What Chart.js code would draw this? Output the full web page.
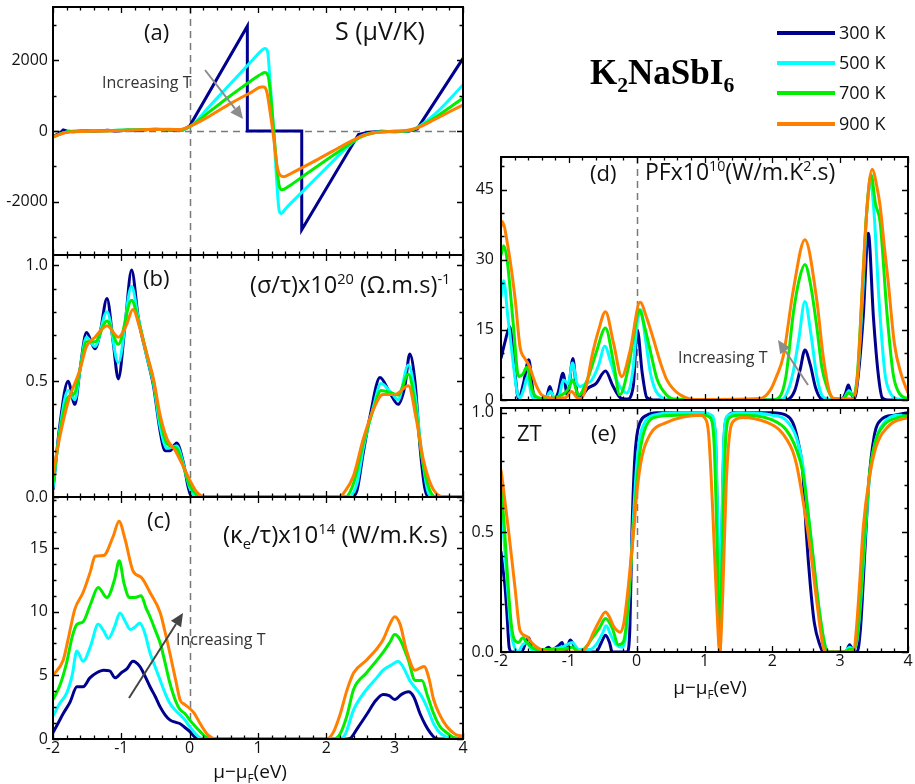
<!DOCTYPE html>
<html><head><meta charset="utf-8">
<script src="https://cdn.jsdelivr.net/npm/chart.js@4.4.1/dist/chart.umd.min.js"></script>
<style>
html,body{margin:0;padding:0;background:#fff;}
#wrap{position:relative;width:915px;height:784px;overflow:hidden;font-family:"Open Sans",sans-serif;}
canvas{position:absolute;left:0;top:0;}
.t{position:absolute;white-space:nowrap;line-height:1;color:#111;z-index:5;}
.t sup,.t sub{font-size:62%;line-height:0;}
svg{position:absolute;left:0;top:0;z-index:6;}
</style></head>
<body><div id="wrap"></div>
<script>
// ---------------- DATA ----------------
const temps = ['300 K','500 K','700 K','900 K'];
const colors = ['#00008F','#00FFFF','#00EE00','#FF8000'];
const xTicks = [-2,-1,0,1,2,3,4];
const aTicks = [-2000,0,2000];
const bTicks = [0,0.5,1.0];
const cTicks = [0,5,10,15];
const dTicks = [0,15,30,45];
const eTicks = [0,0.5,1.0];

// (a) Seebeck S (uV/K)
const seebeck300 = [[-2,-150],[-1.9,-60],[-1.85,30],[-1.8,0],[-1.7,-20],[-1.6,0],[-1.5,10],[-1.4,-10],[-1.3,10],[-1.2,20],[-1.1,0],[-1.0,10],[-0.9,30],[-0.8,10],[-0.7,20],[-0.6,40],[-0.5,50],[-0.4,40],[-0.3,30],[-0.2,20],[-0.1,30],[0,140],[0.844,2960],[0.844,0],[1.64,0],[1.64,-2790],[2.47,-100],[2.6,-40],[2.8,-10],[3.0,-20],[3.2,-10],[3.33,60],[4.0,2050]];
const seebeck500 = [[-2,-170],[-1.8,-30],[-1.5,0],[-1.2,10],[-0.9,30],[-0.6,40],[-0.3,40],[-0.15,30],[0,110],[0.3,720],[0.6,1340],[0.9,1960],[1.05,2270],[1.1,2330],[1.14,2250],[1.18,1300],[1.23,0],[1.27,-1300],[1.31,-2250],[1.34,-2330],[1.4,-2200],[1.7,-1620],[2.0,-1040],[2.3,-470],[2.5,-150],[2.7,-40],[3.0,-10],[3.2,10],[3.33,100],[3.6,500],[4.0,1300]];
const seebeck700 = [[-2,-170],[-1.8,-30],[-1.5,0],[-1.2,10],[-0.9,30],[-0.6,40],[-0.3,45],[-0.15,30],[0,120],[0.3,560],[0.6,1000],[0.9,1420],[1.05,1610],[1.1,1650],[1.15,1540],[1.19,900],[1.23,0],[1.27,-900],[1.31,-1550],[1.35,-1660],[1.45,-1560],[1.7,-1220],[2.0,-820],[2.3,-420],[2.5,-170],[2.7,-50],[3.0,-10],[3.2,10],[3.33,90],[3.6,390],[4.0,930]];
const seebeck900 = [[-2,-160],[-1.8,-40],[-1.5,-10],[-1.2,0],[-0.9,20],[-0.6,40],[-0.3,50],[-0.15,40],[0,130],[0.3,430],[0.6,780],[0.9,1090],[1.05,1240],[1.09,1240],[1.13,1100],[1.18,500],[1.23,-200],[1.28,-1000],[1.33,-1260],[1.38,-1290],[1.5,-1180],[1.8,-880],[2.1,-560],[2.4,-250],[2.55,-120],[2.8,-30],[3.1,0],[3.33,90],[3.6,340],[4.0,740]];

// (b) sigma/tau x1e20
const sigma300 = [[-2,0.03],[-1.9,0.31],[-1.78,0.5],[-1.68,0.4],[-1.605,0.55],[-1.51,0.71],[-1.385,0.64],[-1.31,0.71],[-1.21,0.857],[-1.12,0.67],[-1.044,0.51],[-0.946,0.74],[-0.85,0.98],[-0.75,0.77],[-0.63,0.61],[-0.53,0.48],[-0.43,0.28],[-0.36,0.2],[-0.29,0.2],[-0.19,0.233],[-0.09,0.146],[-0.02,0.04],[0.03,0],[2.38,0],[2.45,0.03],[2.54,0.19],[2.64,0.35],[2.785,0.516],[2.93,0.45],[3.05,0.4],[3.15,0.48],[3.22,0.617],[3.3,0.49],[3.37,0.22],[3.44,0.04],[3.5,0],[4,0]];
const sigma500 = [[-2,0.04],[-1.9,0.29],[-1.78,0.46],[-1.68,0.42],[-1.605,0.55],[-1.51,0.69],[-1.385,0.65],[-1.21,0.8],[-1.044,0.58],[-0.85,0.91],[-0.75,0.77],[-0.63,0.61],[-0.53,0.49],[-0.43,0.3],[-0.33,0.21],[-0.19,0.22],[-0.09,0.14],[0,0.04],[0.1,0],[2.33,0],[2.45,0.06],[2.54,0.21],[2.69,0.39],[2.8,0.49],[2.95,0.45],[3.05,0.42],[3.2,0.57],[3.3,0.44],[3.4,0.18],[3.48,0.03],[3.55,0],[4,0]];
const sigma700 = [[-2,0.06],[-1.9,0.28],[-1.78,0.43],[-1.68,0.45],[-1.605,0.55],[-1.51,0.67],[-1.385,0.67],[-1.21,0.76],[-1.044,0.66],[-0.85,0.85],[-0.75,0.76],[-0.63,0.62],[-0.53,0.5],[-0.43,0.33],[-0.33,0.23],[-0.19,0.21],[-0.09,0.13],[0,0.05],[0.1,0.01],[0.2,0],[2.28,0],[2.4,0.06],[2.54,0.23],[2.69,0.38],[2.8,0.46],[2.95,0.45],[3.05,0.44],[3.2,0.53],[3.3,0.4],[3.4,0.17],[3.5,0.04],[3.6,0],[4,0]];
const sigma900 = [[-2,0.1],[-1.9,0.26],[-1.78,0.41],[-1.605,0.55],[-1.51,0.65],[-1.385,0.69],[-1.21,0.74],[-1.044,0.69],[-0.93,0.74],[-0.83,0.81],[-0.73,0.73],[-0.63,0.62],[-0.53,0.51],[-0.43,0.35],[-0.33,0.25],[-0.21,0.2],[-0.09,0.13],[0,0.074],[0.1,0.023],[0.24,0],[2.2,0],[2.25,0.015],[2.395,0.09],[2.54,0.25],[2.69,0.38],[2.83,0.443],[3.005,0.443],[3.2,0.48],[3.32,0.33],[3.42,0.16],[3.57,0.03],[3.76,0],[4,0]];

// (c) kappa_e/tau x1e14
const kappa300 = [[-2,0.5],[-1.92,1.3],[-1.85,2.0],[-1.75,2.9],[-1.65,4.1],[-1.56,4.1],[-1.46,4.8],[-1.36,5.2],[-1.26,5.4],[-1.17,5.35],[-1.09,4.8],[-1.0,5.2],[-0.92,5.5],[-0.83,6.1],[-0.73,5.7],[-0.65,4.9],[-0.58,4.1],[-0.5,3.3],[-0.43,2.5],[-0.36,1.9],[-0.29,1.5],[-0.2,1.3],[-0.14,1.2],[-0.07,0.9],[0,0.6],[0.05,0.3],[0.1,0.05],[0.2,0],[2.3,0],[2.35,0.05],[2.45,0.8],[2.6,2.0],[2.72,3.0],[2.83,3.5],[2.92,3.4],[3.0,3.1],[3.1,3.5],[3.2,3.7],[3.28,3.3],[3.37,2.0],[3.45,1.1],[3.52,0.5],[3.6,0.05],[3.7,0],[4,0]];
const kappa500 = [[-2,1.8],[-1.9,2.8],[-1.8,3.6],[-1.72,5.0],[-1.65,6.9],[-1.56,6.1],[-1.45,7.3],[-1.34,9.0],[-1.26,8.5],[-1.19,7.9],[-1.1,8.8],[-1.02,9.9],[-0.94,9.2],[-0.87,8.6],[-0.8,8.8],[-0.73,9.1],[-0.65,8.2],[-0.58,6.75],[-0.5,5.6],[-0.43,4.6],[-0.36,3.6],[-0.29,2.8],[-0.2,2.2],[-0.14,1.9],[-0.07,1.5],[0,0.97],[0.08,0.45],[0.15,0.1],[0.25,0],[2.2,0],[2.28,0.4],[2.4,2.3],[2.59,3.9],[2.72,4.7],[2.83,5.4],[2.95,5.8],[3.05,6.1],[3.13,5.6],[3.22,4.6],[3.32,3.9],[3.4,3.3],[3.48,2.4],[3.57,1.2],[3.66,0.5],[3.76,0.15],[3.9,0],[4,0]];
const kappa700 = [[-2,3.1],[-1.9,4.2],[-1.8,6.0],[-1.72,8.0],[-1.65,9.0],[-1.56,9.2],[-1.45,10.6],[-1.34,11.9],[-1.21,11.1],[-1.1,12.5],[-1.03,14.0],[-0.96,12.2],[-0.88,11.1],[-0.8,11.1],[-0.71,11.25],[-0.64,10.3],[-0.58,9.6],[-0.5,8.5],[-0.43,7.5],[-0.36,6.0],[-0.29,4.4],[-0.2,2.9],[-0.14,2.3],[-0.07,2.0],[0,1.5],[0.08,1.0],[0.15,0.6],[0.24,0.15],[0.35,0],[2.1,0],[2.2,0.4],[2.3,1.8],[2.4,3.9],[2.59,5.2],[2.83,6.8],[2.93,7.6],[3.0,8.2],[3.08,7.8],[3.2,6.2],[3.3,4.6],[3.4,4.6],[3.48,3.4],[3.57,2.0],[3.66,1.0],[3.76,0.5],[3.85,0.15],[4,0]];
const kappa900 = [[-2,5.0],[-1.85,6.2],[-1.78,7.8],[-1.68,10.2],[-1.56,11.5],[-1.45,13.2],[-1.385,14.35],[-1.26,14.4],[-1.12,15.9],[-1.034,17.1],[-0.946,15.7],[-0.83,13.2],[-0.7,12.65],[-0.58,11.5],[-0.43,9.9],[-0.36,8.4],[-0.29,6.75],[-0.2,4.5],[-0.14,3.07],[-0.07,2.7],[0,2.4],[0.07,2.0],[0.15,1.24],[0.27,0.3],[0.4,0],[2.0,0],[2.1,0.5],[2.2,1.9],[2.3,3.8],[2.4,5.2],[2.59,6.2],[2.83,7.8],[2.92,8.9],[3.0,9.6],[3.08,9.0],[3.17,7.0],[3.3,5.4],[3.43,5.7],[3.5,4.8],[3.57,3.1],[3.66,1.9],[3.76,1.0],[3.88,0.4],[4,0.2]];

// (d) PF x1e10
const pf300 = [[-2,8.9],[-1.94,12.5],[-1.87,15.7],[-1.8,6.5],[-1.74,0.2],[-1.67,3.5],[-1.59,8.6],[-1.53,2],[-1.49,0.2],[-1.34,0.2],[-1.28,2.9],[-1.22,0.2],[-1.16,1.5],[-1.087,5.7],[-1.02,1.0],[-0.94,8.9],[-0.89,2.5],[-0.857,0.3],[-0.8,1.0],[-0.72,2.5],[-0.6,3.5],[-0.46,6.2],[-0.35,3.0],[-0.24,0.5],[-0.14,0.2],[-0.05,3],[0.01,15.0],[0.08,6],[0.15,0.5],[0.25,0],[2.2,0],[2.33,2.0],[2.41,6.5],[2.48,10.7],[2.56,7.5],[2.64,2.5],[2.72,0.3],[2.85,0],[3.03,0.2],[3.08,1.5],[3.12,3.2],[3.16,1.5],[3.21,0.3],[3.27,5.7],[3.34,17.8],[3.415,35.7],[3.49,17.8],[3.56,5.7],[3.62,0.5],[3.7,0],[4,0]];
const pf500 = [[-2,22],[-1.96,25.5],[-1.9,17.9],[-1.82,7.9],[-1.76,1.5],[-1.72,0.5],[-1.66,2.5],[-1.61,5],[-1.55,1.0],[-1.5,0.2],[-1.35,0.2],[-1.27,1.8],[-1.2,0.2],[-1.14,1.0],[-1.08,4.3],[-1.01,3.5],[-0.945,7.9],[-0.88,3.5],[-0.83,2.9],[-0.75,3.5],[-0.66,4.3],[-0.56,7.5],[-0.47,11.5],[-0.38,8.0],[-0.3,4.3],[-0.2,2.0],[-0.14,1.5],[-0.05,7],[0.0,15.7],[0.06,19.3],[0.13,13],[0.2,6],[0.28,2.0],[0.35,0.8],[0.45,0],[2.1,0],[2.2,1.0],[2.3,5.5],[2.39,13],[2.48,21.1],[2.57,14],[2.65,5.5],[2.73,1.0],[2.8,0.3],[2.9,0],[3.05,0.3],[3.13,2.0],[3.2,0.8],[3.26,5.7],[3.33,22],[3.4,42],[3.45,46.4],[3.5,40],[3.57,22],[3.66,5.7],[3.75,1.2],[3.85,0.2],[4,0]];
const pf700 = [[-2,31],[-1.96,33],[-1.91,30],[-1.82,16.4],[-1.74,5.0],[-1.68,5.5],[-1.62,7],[-1.54,2.1],[-1.45,0.5],[-1.3,0.3],[-1.1,1.1],[-1.0,2.5],[-0.945,4.3],[-0.857,1.0],[-0.71,5],[-0.6,10],[-0.46,15.4],[-0.34,7.9],[-0.25,1.1],[-0.12,7.1],[-0.04,14],[0.037,19.3],[0.12,15.5],[0.22,9.3],[0.3,4.5],[0.445,1.0],[0.55,0.2],[2.0,0],[2.1,0.5],[2.2,5],[2.31,18.6],[2.4,26],[2.48,29.0],[2.56,25],[2.655,15.7],[2.73,7],[2.8,3.0],[2.9,0.3],[3.05,0.2],[3.12,1.5],[3.2,1.0],[3.255,5.7],[3.32,22],[3.39,40],[3.455,48.2],[3.52,42],[3.59,37.9],[3.69,18.6],[3.78,5.7],[3.85,2.0],[3.95,0.5],[4.0,0.4]];
const pf900 = [[-2,37],[-1.985,38.2],[-1.89,32.1],[-1.79,21.4],[-1.72,11.4],[-1.65,8.9],[-1.59,7.5],[-1.495,3.6],[-1.4,1.1],[-1.2,0.4],[-1.05,0.5],[-0.96,1.8],[-0.88,0.5],[-0.83,0.3],[-0.75,2.5],[-0.66,9.3],[-0.56,15],[-0.46,18.9],[-0.34,12.1],[-0.22,5.0],[-0.095,10.7],[0.05,20.9],[0.15,17.5],[0.25,12.9],[0.35,8],[0.445,4.3],[0.64,1.1],[0.94,0.1],[1.82,0.3],[1.97,2.1],[2.06,5],[2.16,9.3],[2.31,23.6],[2.48,34.3],[2.655,21.4],[2.75,9.3],[2.85,1.4],[2.95,0.2],[3.195,0.3],[3.26,5.7],[3.33,25],[3.39,40],[3.47,49.4],[3.55,45],[3.59,41.4],[3.65,33],[3.71,25],[3.8,12],[3.9,5.5],[4.0,1.5]];

// (e) ZT
const zt300 = [[-2,0.42],[-1.985,0.38],[-1.94,0.27],[-1.91,0.15],[-1.88,0.02],[-1.84,0],[-1.7,0],[-1.62,0.05],[-1.59,0.06],[-1.55,0.02],[-1.4,0],[-1.3,0.02],[-1.25,0.01],[-1.14,0.03],[-1.1,0.04],[-1.05,0],[-0.98,0.05],[-0.93,0.03],[-0.88,0],[-0.8,0],[-0.6,0],[-0.52,0.04],[-0.46,0.07],[-0.4,0.04],[-0.36,0],[-0.14,0],[-0.1,0.1],[-0.07,0.5],[-0.03,0.8],[0,0.9],[0.05,0.96],[0.15,0.99],[0.3,1.0],[0.9,1.0],[1.05,0.995],[1.12,0.97],[1.16,0.9],[1.2,0.4],[1.225,0],[1.25,0.4],[1.29,0.9],[1.33,0.98],[1.45,1.0],[2.0,1.0],[2.2,0.99],[2.3,0.96],[2.38,0.88],[2.45,0.75],[2.5,0.5],[2.56,0.28],[2.62,0.12],[2.7,0.03],[2.75,0],[3.08,0],[3.14,0.03],[3.2,0],[3.25,0],[3.3,0.1],[3.36,0.4],[3.42,0.7],[3.5,0.9],[3.6,0.97],[3.8,0.99],[4.0,1.0]];
const zt500 = [[-2,0.62],[-1.95,0.45],[-1.9,0.25],[-1.85,0.08],[-1.8,0.02],[-1.75,0],[-1.68,0.03],[-1.62,0.04],[-1.55,0.01],[-1.45,0],[-1.3,0.01],[-1.1,0.02],[-0.95,0.04],[-0.85,0.01],[-0.7,0.01],[-0.6,0.03],[-0.5,0.08],[-0.45,0.11],[-0.38,0.07],[-0.3,0.03],[-0.22,0.02],[-0.17,0.05],[-0.12,0.2],[-0.06,0.5],[0,0.78],[0.05,0.9],[0.12,0.96],[0.25,0.99],[0.6,1.0],[1.0,1.0],[1.1,0.99],[1.16,0.92],[1.2,0.45],[1.225,0],[1.25,0.45],[1.29,0.92],[1.35,0.99],[1.5,1.0],[2.0,0.99],[2.2,0.97],[2.35,0.9],[2.45,0.78],[2.52,0.6],[2.6,0.4],[2.68,0.2],[2.76,0.05],[2.82,0],[3.05,0],[3.14,0.02],[3.2,0.01],[3.25,0.05],[3.3,0.2],[3.36,0.45],[3.43,0.72],[3.52,0.88],[3.65,0.96],[3.85,0.99],[4.0,0.99]];
const zt700 = [[-2,0.7],[-1.95,0.52],[-1.9,0.3],[-1.85,0.12],[-1.8,0.05],[-1.74,0.04],[-1.68,0.06],[-1.62,0.04],[-1.55,0.02],[-1.45,0.01],[-1.3,0.01],[-1.1,0.01],[-0.95,0.02],[-0.85,0],[-0.75,0.02],[-0.65,0.06],[-0.55,0.1],[-0.46,0.14],[-0.36,0.1],[-0.27,0.03],[-0.2,0.04],[-0.15,0.12],[-0.1,0.3],[-0.05,0.5],[0,0.7],[0.05,0.84],[0.12,0.93],[0.25,0.98],[0.6,0.99],[1.0,0.99],[1.08,0.98],[1.14,0.88],[1.19,0.4],[1.225,0],[1.26,0.4],[1.31,0.88],[1.37,0.98],[1.5,0.99],[2.0,0.97],[2.2,0.93],[2.35,0.85],[2.45,0.75],[2.52,0.6],[2.6,0.4],[2.68,0.2],[2.76,0.05],[2.82,0],[3.05,0],[3.14,0.01],[3.2,0.01],[3.25,0.06],[3.3,0.22],[3.36,0.48],[3.43,0.74],[3.52,0.88],[3.65,0.95],[3.85,0.98],[4.0,0.99]];
const zt900 = [[-2,0.76],[-1.985,0.73],[-1.89,0.51],[-1.79,0.26],[-1.72,0.09],[-1.62,0.065],[-1.55,0.04],[-1.47,0.02],[-1.3,0],[-1.13,0],[-0.84,0],[-0.72,0.03],[-0.64,0.08],[-0.55,0.13],[-0.46,0.167],[-0.4,0.145],[-0.34,0.107],[-0.24,0.083],[-0.19,0.12],[-0.14,0.23],[-0.09,0.37],[-0.04,0.52],[0,0.66],[0.077,0.815],[0.2,0.91],[0.445,0.96],[0.94,0.99],[1.0,0.98],[1.06,0.915],[1.12,0.6],[1.18,0.2],[1.225,0],[1.27,0.25],[1.32,0.7],[1.38,0.93],[1.45,0.97],[1.57,0.98],[1.92,0.96],[2.1,0.93],[2.21,0.89],[2.3,0.84],[2.36,0.78],[2.46,0.62],[2.56,0.43],[2.66,0.2],[2.75,0.02],[2.8,0],[3.2,0],[3.24,0.1],[3.29,0.3],[3.34,0.52],[3.44,0.745],[3.52,0.85],[3.59,0.9],[3.7,0.94],[3.78,0.96],[4.0,0.98]];

// ---------------- RENDERING ----------------
const wrap = document.getElementById('wrap');

const frameTicks = {
  id: 'frameTicks',
  beforeDatasetsDraw(chart, args, o) {
    const {ctx, chartArea: a, scales: {x, y}} = chart;
    ctx.save();
    ctx.strokeStyle = '#7a7a7a'; ctx.lineWidth = 1.5; ctx.setLineDash([7, 5]);
    if (o.zeroX) { const px = Math.round(x.getPixelForValue(0)) + 0.5; ctx.beginPath(); ctx.moveTo(px, a.top); ctx.lineTo(px, a.bottom); ctx.stroke(); }
    if (o.zeroY) { const py = Math.round(y.getPixelForValue(0)) + 0.5; ctx.beginPath(); ctx.moveTo(a.left, py); ctx.lineTo(a.right, py); ctx.stroke(); }
    ctx.restore();
  },
  afterDatasetsDraw(chart, args, o) {
    const {ctx, chartArea: a, scales: {x, y}} = chart;
    ctx.save();
    ctx.strokeStyle = '#000'; ctx.lineWidth = 1.3;
    const steps = (min, max, st) => { const r = []; for (let k = Math.ceil(min / st - 1e-9); k * st <= max + 1e-9; k++) r.push(+(k * st).toFixed(6)); return r; };
    ctx.beginPath();
    steps(x.min, x.max, o.xMinor).forEach(v => {
      const major = o.xMajor.some(m => Math.abs(m - v) < 1e-6); const L = major ? 6 : 3.5;
      const px = Math.round(x.getPixelForValue(v)) + 0.5;
      ctx.moveTo(px, a.bottom); ctx.lineTo(px, a.bottom - L);
      ctx.moveTo(px, a.top); ctx.lineTo(px, a.top + L);
    });
    steps(y.min, y.max, o.yMinor).forEach(v => {
      const major = o.yMajor.some(m => Math.abs(m - v) < 1e-6); const L = major ? 6 : 3.5;
      const py = Math.round(y.getPixelForValue(v)) + 0.5;
      ctx.moveTo(a.left, py); ctx.lineTo(a.left + L, py);
      ctx.moveTo(a.right, py); ctx.lineTo(a.right - L, py);
    });
    ctx.stroke();
    ctx.lineWidth = 2;
    ctx.strokeRect(a.left, a.top, a.right - a.left, a.bottom - a.top);
    ctx.restore();
  }
};

function makePanel(area, yMin, yMax, yTickVals, yMinorStep, yFmt, series, opt) {
  const cv = document.createElement('canvas'); cv.width = 915; cv.height = 784; wrap.appendChild(cv);
  const YW = 50, XH = 22;
  const showX = !!opt.showX;
  const font = {family: 'Open Sans', size: 16};
  new Chart(cv, {
    type: 'line',
    data: {datasets: series.map((s, i) => ({
      label: temps[i], data: s.map(([x, y]) => ({x, y})), borderColor: colors[i], backgroundColor: colors[i],
      borderWidth: 3, pointRadius: 0, fill: false, order: 3 - i,
      cubicInterpolationMode: (opt.linear && opt.linear[i]) ? 'default' : 'monotone', tension: 0
    }))},
    options: {
      responsive: false, animation: false, devicePixelRatio: 1, events: [],
      layout: {autoPadding: false, padding: {left: area.l - YW, top: area.t, right: 915 - area.r, bottom: 784 - area.b - (showX ? XH : 0)}},
      plugins: {legend: {display: false}, tooltip: {enabled: false},
        frameTicks: {zeroX: true, zeroY: !!opt.zeroY, xMajor: xTicks, xMinor: 0.2, yMajor: yTickVals, yMinor: yMinorStep}},
      scales: {
        x: {type: 'linear', min: -2, max: 4, display: showX, grid: {display: false, drawTicks: false}, border: {display: false},
            afterBuildTicks: s => { s.ticks = xTicks.map(v => ({value: v})); },
            afterFit: s => { s.height = showX ? XH : 0; s.paddingLeft = 0; s.paddingRight = 0; },
            ticks: {padding: 0, color: '#111', font, maxRotation: 0, autoSkip: false, callback: v => String(v)}},
        y: {type: 'linear', min: yMin, max: yMax, grid: {display: false, drawTicks: false}, border: {display: false},
            afterBuildTicks: s => { s.ticks = yTickVals.map(v => ({value: v})); },
            afterFit: s => { s.width = YW; s.paddingTop = 0; s.paddingBottom = 0; },
            ticks: {padding: opt.yPad || 5, color: '#111', font, autoSkip: false, callback: yFmt}}
      }
    },
    plugins: [frameTicks]
  });
}

const fmt0 = v => String(v);
const fmt1 = v => v.toFixed(1);

makePanel({l: 53, t: 7, r: 463, b: 255}, -3500, 3500, aTicks, 1000, fmt0,
  [seebeck300, seebeck500, seebeck700, seebeck900], {zeroY: true, linear: [true, false, false, false]});
makePanel({l: 53, t: 255, r: 463, b: 497}, 0, 1.045, bTicks, 0.1, fmt1,
  [sigma300, sigma500, sigma700, sigma900], {});
makePanel({l: 53, t: 497, r: 463, b: 739}, 0, 19, cTicks, 1.25, fmt0,
  [kappa300, kappa500, kappa700, kappa900], {showX: true});
makePanel({l: 501, t: 157, r: 908, b: 400}, 0, 52, dTicks, 5, fmt0,
  [pf300, pf500, pf700, pf900], {yPad: 7});
makePanel({l: 501, t: 408, r: 908, b: 652}, 0, 1.02, eTicks, 0.1, fmt1,
  [zt300, zt500, zt700, zt900], {showX: true, yPad: 7});

// ---------------- TEXT ----------------
function addText(html, left, cy, size, extra) {
  const d = document.createElement('div'); d.className = 't'; d.innerHTML = html;
  d.style.left = left + 'px'; d.style.top = (cy - size * 0.55) + 'px'; d.style.fontSize = size + 'px';
  if (extra) Object.assign(d.style, extra);
  wrap.appendChild(d);
}
addText('(a)', 144, 32, 22);
addText('S (μV/K)', 335, 32, 25);
addText('Increasing T', 102, 83, 16, {color: '#333'});
addText('(b)', 143, 278, 22);
addText('(σ/τ)x10<sup>20</sup> (Ω.m.s)<sup>-1</sup>', 250, 286, 23.5);
addText('(c)', 147, 520, 22);
addText('(κ<sub>e</sub>/τ)x10<sup>14</sup> (W/m.K.s)', 223, 535, 24);
addText('Increasing T', 176, 640, 16, {color: '#333'});
addText('(d)', 590, 173, 22);
addText('PFx10<sup>10</sup>(W/m.K<sup>2</sup>.s)', 645, 173, 23);
addText('Increasing T', 678, 358, 16, {color: '#333'});
addText('ZT', 517, 433, 22);
addText('(e)', 591, 433, 22);
addText('μ−μ<sub>F</sub>(eV)', 250, 772, 19, {transform: 'translateX(-50%)'});
addText('μ−μ<sub>F</sub>(eV)', 710, 688, 19, {transform: 'translateX(-50%)'});
addText('K<sub>2</sub>NaSbI<sub>6</sub>', 590, 74, 35, {fontFamily: '"Liberation Serif", serif', fontWeight: 'bold', color: '#000'});

// legend
const legY = [33, 63, 93, 124];
temps.forEach((t, i) => {
  const ln = document.createElement('div');
  Object.assign(ln.style, {position: 'absolute', left: '777px', top: (legY[i] - 2) + 'px', width: '58px', height: '4px', background: colors[i], zIndex: 5});
  wrap.appendChild(ln);
  addText(t, 839, legY[i], 18);
});

// arrows
function arrow(x1, y1, x2, y2, col) {
  const ang = Math.atan2(y2 - y1, x2 - x1), L = 13, W = 6;
  const bx = x2 - L * Math.cos(ang), by = y2 - L * Math.sin(ang);
  const px = -Math.sin(ang) * W, py = Math.cos(ang) * W;
  return `<line x1="${x1}" y1="${y1}" x2="${bx}" y2="${by}" stroke="${col}" stroke-width="2"/>` +
    `<polygon points="${x2},${y2} ${bx + px},${by + py} ${bx - px},${by - py}" fill="${col}"/>`;
}
const svg = document.createElementNS('http://www.w3.org/2000/svg', 'svg');
svg.setAttribute('width', 915); svg.setAttribute('height', 784);
svg.innerHTML = arrow(205, 70, 243, 119, '#8c8c8c') + arrow(129, 698, 183, 613, '#444') + arrow(808, 385, 778, 340, '#8c8c8c');
wrap.appendChild(svg);
</script></body></html>
